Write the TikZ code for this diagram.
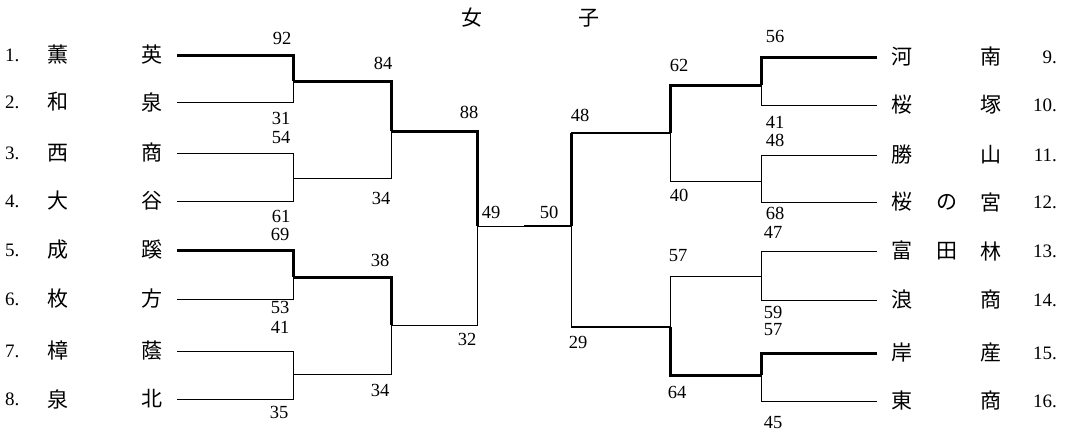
\documentclass[tikz,border=0pt]{standalone}
\usepackage{fontspec}
\setmainfont{Liberation Serif}
\newfontfamily\cjk{Noto Sans CJK JP}
\begin{document}
\begin{tikzpicture}[x=1pt,y=-1pt,
  lose/.style={line width=1pt},
  win/.style={line width=3pt},
  semi/.style={line width=2pt},
  sc/.style={inner sep=0pt,font=\fontsize{18.5}{18.5}\selectfont},
  nm/.style={inner sep=0pt,font=\cjk\fontsize{21}{21}\selectfont},
  idx/.style={inner sep=0pt,font=\fontsize{19}{19}\selectfont}]
\useasboundingbox (0,0) rectangle (1070,432);

% title
\node[nm] (t1) at (472,18) {女};
\node[nm] (t2) at (589,18) {子};

% left teams
\foreach \i/\y/\a/\b in {1/55/薫/英,2/102/和/泉,3/153/西/商,4/201/大/谷,5/250/成/蹊,6/299/枚/方,7/351/樟/蔭,8/399/泉/北}{
  \node[idx,anchor=west] (i\i) at (5,\y) {\i.};
  \node[nm] (n\i a) at (58,\y) {\a};
  \node[nm] (n\i b) at (152,\y) {\b};
  \coordinate (a\i) at (177,\y);
}
% right teams
\foreach \i/\y/\a/\b/\c in {9/57/河//南,10/105/桜//塚,11/155/勝//山,12/202/桜/の/宮,13/251/富/田/林,14/300/浪//商,15/353/岸//産,16/401/東//商}{
  \node[idx,anchor=east] (i\i) at (1057,\y) {\i.};
  \node[nm] (n\i a) at (902,\y) {\a};
  \node[nm] (n\i b) at (947,\y) {\b};
  \node[nm] (n\i c) at (991,\y) {\c};
  \coordinate (a\i) at (877,\y);
}

% junctions
\coordinate (j12) at (293,81);
\coordinate (j34) at (293,178);
\coordinate (j56) at (293,277);
\coordinate (j78) at (293,374);
\coordinate (k14) at (391,131);
\coordinate (k58) at (391,325);
\coordinate (fL) at (477,226);
\coordinate (fM) at (524,226);
\coordinate (fR) at (571,226);
\coordinate (k912) at (670,133);
\coordinate (k1316) at (670,327);
\coordinate (j910) at (761,85);
\coordinate (j1112) at (761,181);
\coordinate (j1314) at (761,276);
\coordinate (j1516) at (761,375);

% left bracket
\draw[win] (a1) -| (j12);
\draw[lose] (a2) -| (j12);
\draw[lose] (a3) -| (j34);
\draw[lose] (a4) -| (j34);
\draw[win] (a5) -| (j56);
\draw[lose] (a6) -| (j56);
\draw[lose] (a7) -| (j78);
\draw[lose] (a8) -| (j78);
\draw[win] (j12) -| (k14);
\draw[lose] (j34) -| (k14);
\draw[win] (j56) -| (k58);
\draw[lose] (j78) -| (k58);
\draw[win] (k14) -| (fL);
\draw[lose] (k58) -| (fL);
\draw[lose] (fL) -- (fM);
\draw[semi] (fM) -- (fR);

% right bracket
\draw[win] (a9) -| (j910);
\draw[lose] (a10) -| (j910);
\draw[lose] (a11) -| (j1112);
\draw[lose] (a12) -| (j1112);
\draw[lose] (a13) -| (j1314);
\draw[lose] (a14) -| (j1314);
\draw[win] (a15) -| (j1516);
\draw[lose] (a16) -| (j1516);
\draw[win] (j910) -| (k912);
\draw[lose] (j1112) -| (k912);
\draw[lose] (j1314) -| (k1316);
\draw[win] (j1516) -| (k1316);
\draw[semi] (k912) -- (k912 -| fR);
\draw[win] (k912 -| fR) -- (fR);
\draw[semi] (k1316) -- (k1316 -| fR);
\draw[lose] (k1316 -| fR) -- (fR);

% scores left
\node[sc] (s1) at (282,38) {92};
\node[sc] (s2) at (281,118) {31};
\node[sc] (s3) at (281,137) {54};
\node[sc] (s4) at (281,216) {61};
\node[sc] (s5) at (280,234) {69};
\node[sc] (s6) at (280,307) {53};
\node[sc] (s7) at (280,327) {41};
\node[sc] (s8) at (279,412) {35};
\node[sc] (s12) at (383,63) {84};
\node[sc] (s34) at (381,198) {34};
\node[sc] (s56) at (380,260) {38};
\node[sc] (s78) at (380,390) {34};
\node[sc] (s14) at (469,112) {88};
\node[sc] (s58) at (467,339) {32};
\node[sc] (sL) at (491,212) {49};
\node[sc] (sR) at (549,212) {50};
% scores right
\node[sc] (s912) at (580,115) {48};
\node[sc] (s1316) at (578,342) {29};
\node[sc] (s910) at (679,65) {62};
\node[sc] (s1112) at (679,195) {40};
\node[sc] (s1314) at (678,256) {57};
\node[sc] (s1516) at (677,392) {64};
\node[sc] (s9) at (775,36) {56};
\node[sc] (s10) at (775,122) {41};
\node[sc] (s11) at (775,140) {48};
\node[sc] (s12r) at (775,213) {68};
\node[sc] (s13) at (773,232) {47};
\node[sc] (s14r) at (773,312) {59};
\node[sc] (s15) at (773,330) {57};
\node[sc] (s16) at (773,422) {45};
\end{tikzpicture}
\end{document}
